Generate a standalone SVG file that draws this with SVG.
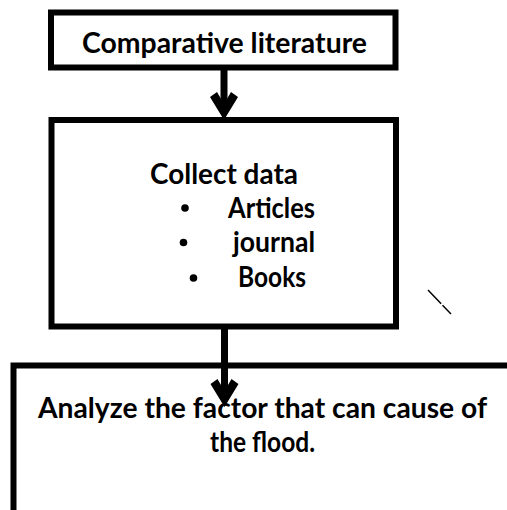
<svg xmlns="http://www.w3.org/2000/svg" width="507" height="510" viewBox="0 0 507 510">
<style>
.box{fill:#fff;stroke:#000;stroke-width:6}
.t{font-family:Lato,"Open Sans","Liberation Sans",sans-serif;font-weight:bold;font-size:28px;fill:#000}
.shaft{stroke:#000;stroke-width:7;fill:none}
</style>
<defs>
<marker id="ah" markerUnits="userSpaceOnUse" orient="auto" refX="-10" refY="0" markerWidth="60" markerHeight="60" overflow="visible">
<polygon points="0,0 -23,14 -28,7 -16,0 -28,-7 -23,-14" fill="#000"/>
</marker>
</defs>
<rect width="507" height="510" fill="#fff"/>
<g id="node-analyze">
<rect class="box" x="13.5" y="365.5" width="520" height="200"/>
<text class="t" x="38" y="418" textLength="449" lengthAdjust="spacingAndGlyphs">Analyze the factor that can cause of</text>
<text class="t" x="210" y="452" textLength="105" lengthAdjust="spacingAndGlyphs">the flood.</text>
</g>
<g id="node-comparative">
<rect class="box" x="51" y="12.5" width="344.5" height="55"/>
<text class="t" x="82" y="53" textLength="285" lengthAdjust="spacingAndGlyphs">Comparative literature</text>
</g>
<g id="node-collect">
<rect class="box" x="51.5" y="120" width="344.5" height="206.5"/>
<text class="t" x="150" y="183.5" textLength="148" lengthAdjust="spacingAndGlyphs">Collect data</text>
<circle cx="185" cy="208" r="3.8"/>
<text class="t" x="228" y="218" textLength="87" lengthAdjust="spacingAndGlyphs">Articles</text>
<circle cx="183.5" cy="242.5" r="3.8"/>
<text class="t" x="233" y="252" textLength="82" lengthAdjust="spacingAndGlyphs">journal</text>
<circle cx="193.5" cy="278" r="3.8"/>
<text class="t" x="238" y="287" textLength="68" lengthAdjust="spacingAndGlyphs">Books</text>
</g>
<g id="connectors">
<path class="shaft" d="M224 70 V110" marker-end="url(#ah)"/>
<path class="shaft" d="M224.5 329 V397" marker-end="url(#ah)"/>
</g>
<line x1="428" y1="290" x2="451" y2="314" stroke="#000" stroke-width="1.5" stroke-dasharray="19 2 20"/>
</svg>
